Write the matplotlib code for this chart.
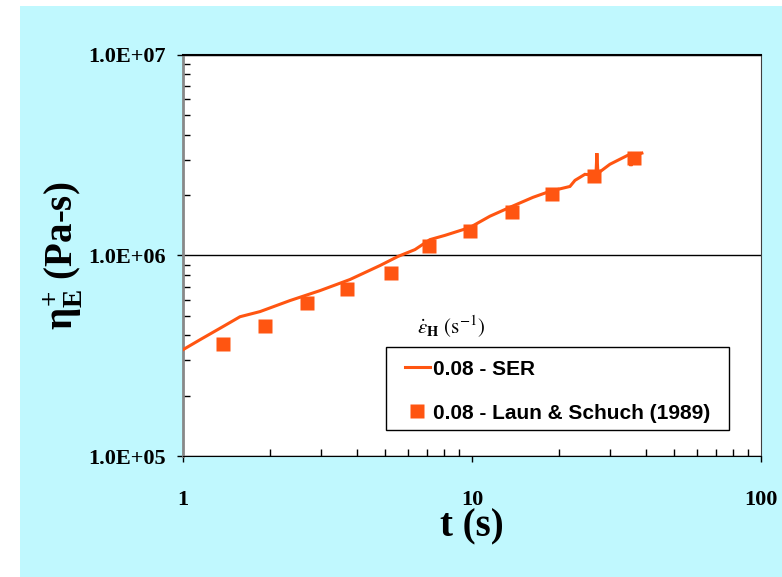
import matplotlib
matplotlib.use("Agg")
import matplotlib.pyplot as plt
from matplotlib.patches import Rectangle
from matplotlib.lines import Line2D
from matplotlib.ticker import FixedLocator, FuncFormatter, LogLocator, NullFormatter

# SER transient extensional viscosity, strain rate 0.08 1/s
ser_t = [1.00, 1.145, 1.375, 1.575, 1.847, 2.346, 2.979, 3.784, 4.805, 5.546,
         6.350, 7.155, 8.065, 9.84, 11.54, 13.54, 16.26, 18.62, 21.84, 22.73,
         24.60, 26.86, 27.07, 27.29, 30.02, 32.51, 35.22, 35.50, 35.78, 38.74]
ser_eta = [3.39e5, 3.80e5, 4.42e5, 4.95e5, 5.25e5, 5.96e5, 6.68e5, 7.59e5, 8.91e5, 9.89e5,
           1.07e6, 1.20e6, 1.26e6, 1.38e6, 1.57e6, 1.74e6, 1.95e6, 2.09e6, 2.21e6, 2.37e6,
           2.54e6, 2.51e6, 3.24e6, 2.57e6, 2.85e6, 3.02e6, 3.20e6, 2.79e6, 3.13e6, 3.24e6]

# Laun & Schuch (1989)
ls_t = [1.375, 1.92, 2.69, 3.69, 5.25, 7.10, 9.84, 13.75, 18.9, 26.4, 36.4]
ls_eta = [3.63e5, 4.47e5, 5.82e5, 6.84e5, 8.22e5, 1.109e6, 1.318e6, 1.64e6, 2.02e6, 2.48e6, 3.05e6]

x_ticks = [1, 10, 100]
y_ticks = [1e5, 1e6, 1e7]
labels = ["0.08 - SER", "0.08 - Laun & Schuch (1989)"]

orange = "#FF5511"
cyan = "#C0F8FE"

plt.rcParams["mathtext.fontset"] = "custom"
plt.rcParams["mathtext.rm"] = "Liberation Serif:bold"
plt.rcParams["mathtext.it"] = "Liberation Serif:bold"
plt.rcParams["mathtext.bf"] = "Liberation Serif:bold"

fig = plt.figure(figsize=(7.82, 5.77), dpi=100, facecolor="white")
fig.patches.append(Rectangle((20 / 782, 0), 1 - 20 / 782, 1 - 6 / 577,
                             transform=fig.transFigure, facecolor=cyan,
                             edgecolor="none", zorder=-10))

ax = fig.add_axes([0.234, 0.2097, 0.739, 0.695])
ax.set_facecolor("white")
ax.set_xscale("log")
ax.set_yscale("log")
ax.set_xlim(1, 100)
ax.set_ylim(1e5, 1e7)

ax.plot(ser_t, ser_eta, color=orange, lw=2.2, solid_joinstyle="miter", zorder=3)
ax.plot(ls_t, ls_eta, ls="none", marker="s", ms=10, color=orange, mec="none", zorder=4)

ax.xaxis.set_major_locator(FixedLocator(x_ticks))
ax.yaxis.set_major_locator(FixedLocator(y_ticks))
ax.xaxis.set_minor_locator(LogLocator(base=10, subs=range(2, 10)))
ax.yaxis.set_minor_locator(LogLocator(base=10, subs=range(2, 10)))
ax.xaxis.set_minor_formatter(NullFormatter())
ax.yaxis.set_minor_formatter(NullFormatter())
ax.xaxis.set_major_formatter(FuncFormatter(lambda v, p: f"{v:g}"))
ax.yaxis.set_major_formatter(FuncFormatter(lambda v, p: f"{v:.1E}"))

ax.tick_params(which="major", direction="out", length=4.5, width=1, color="black")
ax.tick_params(which="minor", direction="in", length=5, width=1, color="black")
ax.tick_params(axis="x", which="major", pad=20)
ax.tick_params(axis="y", which="major", pad=8)
for lab in ax.get_xticklabels() + ax.get_yticklabels():
    lab.set_fontfamily("Liberation Serif")
    lab.set_fontweight("bold")
    lab.set_fontsize(16)

ax.yaxis.grid(True, which="major", color="black", lw=1)
ax.set_axisbelow(True)

ax.spines["left"].set_color("#888888")
ax.spines["left"].set_linewidth(2)
ax.spines["top"].set_color("black")
ax.spines["top"].set_linewidth(1.5)
ax.spines["right"].set_color("#404040")
ax.spines["bottom"].set_color("black")

ax.set_xlabel("t (s)", fontfamily="Liberation Serif", fontweight="bold",
              fontsize=28, labelpad=-1)
ax.set_ylabel(r"$\eta_{E}^{+}$ (Pa-s)", fontfamily="Liberation Serif",
              fontweight="bold", fontsize=28, labelpad=2)

# legend box drawn separately so the entries can sit with wider left padding
ax.add_patch(Rectangle((0.351, 0.065), 0.594, 0.207, transform=ax.transAxes,
                       facecolor="white", edgecolor="black", lw=1, zorder=5))
handles = [Line2D([], [], color=orange, lw=2.2),
           Line2D([], [], ls="none", marker="s", ms=10, color=orange, mec="none")]
leg = ax.legend(handles, labels, loc="upper left", bbox_to_anchor=(0.384, 0.240),
                frameon=False, handlelength=1.2, handletextpad=0.15, borderpad=0,
                labelspacing=1.2, borderaxespad=0,
                prop={"family": "Liberation Sans", "weight": "bold", "size": 15})
leg.set_zorder(6)

ax.text(0.405, 0.323, r"$\dot{\varepsilon}_{\mathbf{H}}\ \mathrm{(s^{-1})}$",
        transform=ax.transAxes, fontsize=15, math_fontfamily="stix",
        color="black", ha="left", va="center")

fig.savefig("out.png", dpi=100, facecolor="white")
